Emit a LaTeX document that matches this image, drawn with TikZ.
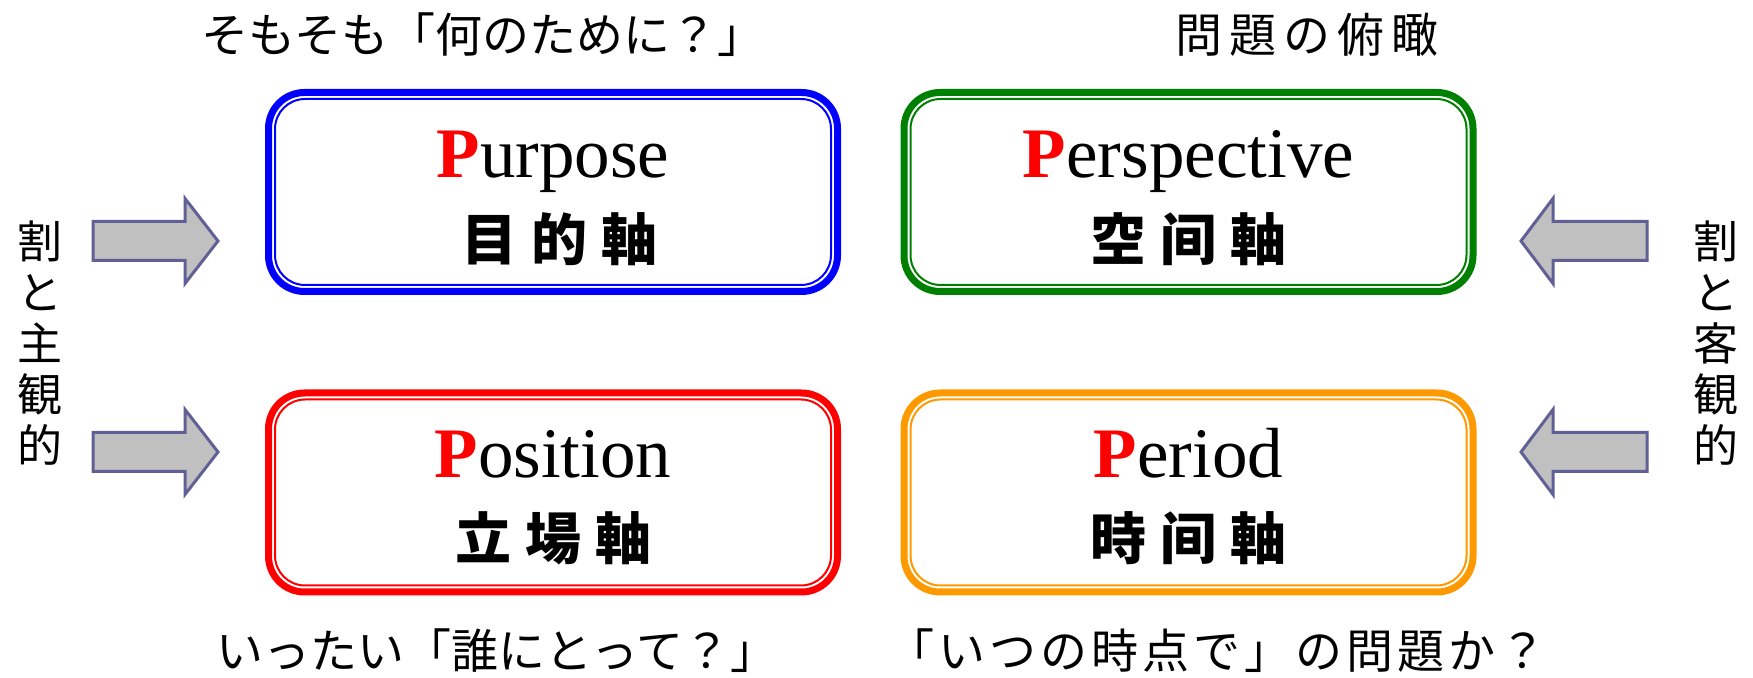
\documentclass[tikz,border=0pt]{standalone}
\usepackage{fontspec}
\setmainfont{Liberation Serif}
\newfontfamily\cjk{Noto Sans CJK JP}
\definecolor{cblue}{RGB}{0,0,255}
\definecolor{cgreen}{RGB}{0,128,0}
\definecolor{cred}{RGB}{255,0,0}
\definecolor{corange}{RGB}{255,153,0}
\definecolor{arrowline}{RGB}{96,96,150}
\definecolor{arrowfill}{RGB}{192,192,192}
\newcommand\gp{\hspace{2pt}}
\begin{document}
\begin{tikzpicture}[x=0.5pt,y=-0.5pt,
  outerbox/.style={draw=#1, line width=3.5pt, rounded corners=18pt, minimum width=284.5pt, minimum height=99.5pt, inner sep=0pt},
  innerbox/.style={draw=#1, line width=1pt, rounded corners=15pt, minimum width=278pt, minimum height=93pt, inner sep=0pt},
  en/.style={font=\fontsize{35.5pt}{40pt}\selectfont, anchor=base, inner sep=0pt},
  jb/.style={font=\cjk\bfseries\fontsize{28pt}{30pt}\selectfont, anchor=base, inner sep=0pt},
  lab/.style={font=\cjk\fontsize{23.5pt}{27pt}\selectfont, anchor=base, inner sep=0pt},
  vlab/.style={font=\cjk\fontsize{22.5pt}{25.5pt}\selectfont, align=center, inner sep=0pt},
  arr/.style={draw=arrowline, fill=arrowfill, line width=1.5pt, line join=miter}]
\useasboundingbox (0,0) rectangle (1753,678);

% boxes: thick outer line and thin inner line
\node[outerbox=cblue] (purpose) at (553,192) {};
\node[innerbox=cblue] (purposeIn) at (553,192) {};
\node[outerbox=cgreen] (perspective) at (1188.5,192) {};
\node[innerbox=cgreen] (perspectiveIn) at (1188.5,192) {};
\node[outerbox=cred] (position) at (553,492.5) {};
\node[innerbox=cred] (positionIn) at (553,492.5) {};
\node[outerbox=corange] (period) at (1188.5,492.5) {};
\node[innerbox=corange] (periodIn) at (1188.5,492.5) {};

% box texts
\node[en] (purposeT) at (553,178) {\textcolor{cred}{\textbf{P}}urpose};
\node[jb] (purposeJ) at (559,261) {目\hspace{7pt}的\hspace{7pt}軸};
\node[en] (perspectiveT) at (1188.5,178) {\textcolor{cred}{\textbf{P}}erspective};
\node[jb] (perspectiveJ) at (1188.5,261) {空\hspace{7pt}间\hspace{7pt}軸};
\node[en] (positionT) at (553,478) {\textcolor{cred}{\textbf{P}}osition};
\node[jb] (positionJ) at (553,560) {立\hspace{7pt}場\hspace{7pt}軸};
\node[en] (periodT) at (1188.5,478) {\textcolor{cred}{\textbf{P}}eriod};
\node[jb] (periodJ) at (1188.5,560) {時\hspace{7pt}间\hspace{7pt}軸};

% outer labels
\node[lab] (lab1) at (483,53) {そもそも「何のために？」};
\node[lab] (lab2) at (1307,53) {問\hspace{3.5pt}題\hspace{3.5pt}の\hspace{3.5pt}俯\hspace{3.5pt}瞰};
\node[lab] (lab3) at (497,669) {いったい「誰にとって？」};
\node[lab] (lab4) at (1217,669) {「\gp い\gp つ\gp の\gp 時\gp 点\gp で\gp 」\gp の\gp 問\gp 題\gp か\gp ？};

\node[vlab] (leftV) at (40,343) {割\\と\\主\\観\\的};
\node[vlab] (rightV) at (1716,343) {割\\と\\客\\観\\的};

% arrows
\foreach \y in {241,452}{
  \draw[arr] (93,\y-19.5) -- (185,\y-19.5) -- (185,\y-42.5) -- (218,\y) -- (185,\y+42.5) -- (185,\y+19.5) -- (93,\y+19.5) -- cycle;
  \draw[arr] (1647,\y-19.5) -- (1553,\y-19.5) -- (1553,\y-42.5) -- (1521,\y) -- (1553,\y+42.5) -- (1553,\y+19.5) -- (1647,\y+19.5) -- cycle;
}
\end{tikzpicture}
\end{document}
